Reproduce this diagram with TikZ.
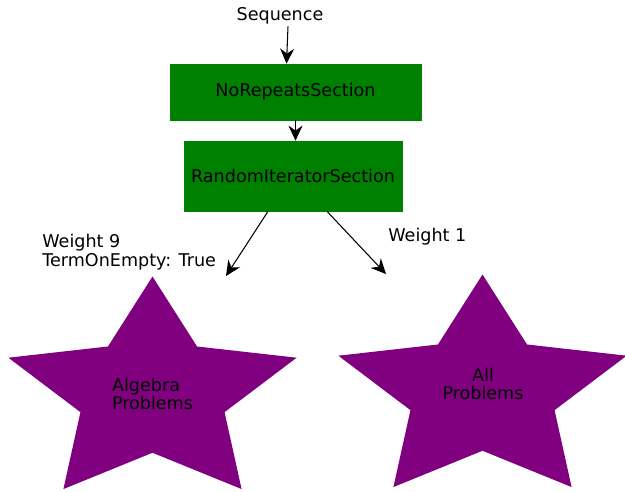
\documentclass[tikz,border=0pt]{standalone}
\usepackage{fontspec}
\setmainfont{DejaVu Sans}
\usetikzlibrary{shapes.geometric,arrows.meta}
\definecolor{boxgreen}{RGB}{0,128,0}
\definecolor{starpurple}{RGB}{128,0,128}

\begin{document}
\begin{tikzpicture}[x=0.02cm,y=-0.02cm,
    section/.style={draw=boxgreen,fill=boxgreen,inner sep=0pt},
    pool/.style={star,star points=5,star point ratio=2,fill=starpurple,inner sep=0pt,minimum size=4.7cm,xscale=1.29,transform shape},
    flow/.style={-{Stealth[length=3mm,width=2.8mm]},line width=0.6pt},
    txt/.style={font=\fontsize{10}{10.5}\selectfont}]
                \useasboundingbox (0,0) rectangle (625,491);
                \node [inner sep=1pt] (seq) at (280,16) {Sequence};
                \node [section,minimum width=5.02cm,minimum height=1.12cm] (nrs) at (295.5,92) {NoRepeatsSection};
                \node [section,minimum width=4.36cm,minimum height=1.4cm] (ris) at (293,176) {RandomIteratorSection};
                \node [pool] (algstar) at (152.5,394) {};
                \node [pool] (allstar) at (482.5,392) {};
                \node [txt,align=left] (algtxt) at (algstar.center) {Algebra\\Problems};
                \node [txt,align=center] (alltxt) at (483,384) {All\\Problems};
                \node [txt,align=left,anchor=north west,inner sep=0pt] (wnine) at (42,234) {Weight 9\\TermOnEmpty: True};
                \node [txt,anchor=north west,inner sep=0pt] (wone) at (388,228) {Weight 1};
                \coordinate (lend) at (226,276);
                \coordinate (rend) at (386,274);
                \draw [flow] ([xshift=0.16cm]seq.south) to ([xshift=-0.18cm]nrs.north);
                \draw [flow] (nrs.south) to (nrs.south |- ris.north);
                \draw [flow] ([xshift=-0.5cm]ris.south) to (lend);
                \draw [flow] ([xshift=0.68cm]ris.south) to (rend);
            \end{tikzpicture}
\end{document}
